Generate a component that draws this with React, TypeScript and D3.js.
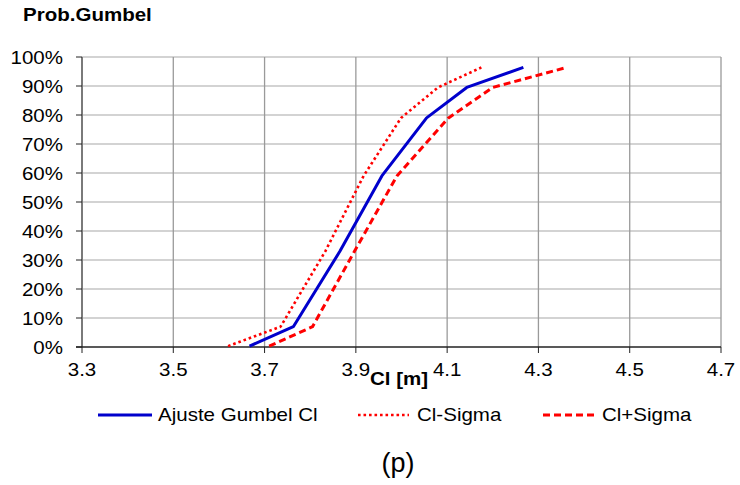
import React from "react";
import * as d3 from "d3";

const xTicks = [3.3, 3.5, 3.7, 3.9, 4.1, 4.3, 4.5, 4.7];
const yTicks = [0, 10, 20, 30, 40, 50, 60, 70, 80, 90, 100];

// shared Gumbel probabilities (%) for the three curves
const probs = [0.3, 7, 33, 59, 79, 89.5, 96.4];
const clFit = [3.667, 3.763, 3.865, 3.957, 4.055, 4.143, 4.267];
const clMinus = [3.62, 3.735, 3.833, 3.917, 3.999, 4.08, 4.175];
const clPlus = [3.71, 3.805, 3.897, 3.99, 4.103, 4.2, 4.362];

const seriesNames = ["Ajuste Gumbel Cl", "Cl-Sigma", "Cl+Sigma"];

const W = 740;
const H = 485;
const M = { left: 82, right: 721, top: 57, bottom: 347 };
const SX = 1.14;
const FONT = "'Liberation Sans', Arial, sans-serif";

export default function App() {
  const x = d3.scaleLinear().domain([3.3, 4.7]).range([M.left, M.right]);
  const y = d3.scaleLinear().domain([0, 100]).range([M.bottom, M.top]);
  const line = d3
    .line<[number, number]>()
    .x((d) => x(d[0]))
    .y((d) => y(d[1]));

  const mk = (xs: number[]) => xs.map((v, i) => [v, probs[i]] as [number, number]);

  const styles = [
    { color: "#0000CC", dash: undefined as string | undefined, width: 3, data: clFit },
    { color: "#FF0000", dash: "2.6 2.9", width: 2.6, data: clMinus },
    { color: "#FF0000", dash: "7 4", width: 3, data: clPlus },
  ];

  const legendItems = [
    { x1: 98, x2: 152, tx: 158 },
    { x1: 358, x2: 409, tx: 417 },
    { x1: 543, x2: 597, tx: 602 },
  ];

  const T = (props: {
    x: number;
    y: number;
    anchor?: string;
    bold?: boolean;
    size?: number;
    sx?: number;
    children: React.ReactNode;
  }) => (
    <text
      transform={`translate(${props.x},${props.y}) scale(${props.sx ?? SX},1)`}
      textAnchor={props.anchor ?? "start"}
      fontFamily={FONT}
      fontSize={props.size ?? 18}
      fontWeight={props.bold ? "bold" : "normal"}
      fill="#000"
    >
      {props.children}
    </text>
  );

  return (
    <svg
      width={W}
      height={H}
      style={{ position: "absolute", left: 0, top: 0, background: "#fff" }}
    >
      <rect x={0} y={0} width={W} height={H} fill="#fff" />
      {/* horizontal gridlines */}
      {yTicks.slice(1).map((t) => (
        <line
          key={"h" + t}
          x1={M.left}
          x2={M.right}
          y1={y(t)}
          y2={y(t)}
          stroke="#c4c4c4"
          strokeWidth={1.5}
        />
      ))}
      {/* vertical gridlines */}
      {xTicks.slice(1).map((t) => (
        <line
          key={"v" + t}
          x1={x(t)}
          x2={x(t)}
          y1={M.top}
          y2={M.bottom}
          stroke="#9a9a9a"
          strokeWidth={1.3}
        />
      ))}
      {/* axes */}
      <line x1={M.left} x2={M.left} y1={M.top} y2={M.bottom} stroke="#7a7a7a" strokeWidth={2} />
      {yTicks.map((t) => (
        <line key={"yt" + t} x1={M.left - 6} x2={M.left} y1={y(t)} y2={y(t)} stroke="#222" strokeWidth={1} />
      ))}
      <line x1={M.left - 6} x2={M.right} y1={M.bottom} y2={M.bottom} stroke="#222" strokeWidth={1.3} />
      {xTicks.map((t) => (
        <line key={"xt" + t} x1={x(t)} x2={x(t)} y1={M.bottom} y2={M.bottom + 6} stroke="#222" strokeWidth={1} />
      ))}
      {/* tick labels */}
      {yTicks.map((t) => (
        <T key={"yl" + t} x={63} y={y(t) + 6.5} anchor="end">
          {t + "%"}
        </T>
      ))}
      {xTicks.map((t) => (
        <T key={"xl" + t} x={x(t)} y={376} anchor="middle">
          {t.toFixed(1)}
        </T>
      ))}
      {/* series */}
      {styles.map((s, i) => (
        <path
          key={"s" + i}
          d={line(mk(s.data)) ?? ""}
          fill="none"
          stroke={s.color}
          strokeWidth={s.width}
          strokeDasharray={s.dash}
          strokeLinejoin="round"
        />
      ))}
      {/* titles */}
      <T x={23} y={21} bold>
        Prob.Gumbel
      </T>
      <T x={399} y={385} anchor="middle" bold>
        Cl [m]
      </T>
      {/* legend */}
      {legendItems.map((l, i) => (
        <g key={"lg" + i}>
          <line
            x1={l.x1}
            x2={l.x2}
            y1={415}
            y2={415}
            stroke={styles[i].color}
            strokeWidth={styles[i].width}
            strokeDasharray={styles[i].dash}
          />
          <T x={l.tx} y={421}>
            {seriesNames[i]}
          </T>
        </g>
      ))}
      <T x={398} y={472} anchor="middle" size={27} sx={1}>
        (p)
      </T>
    </svg>
  );
}
